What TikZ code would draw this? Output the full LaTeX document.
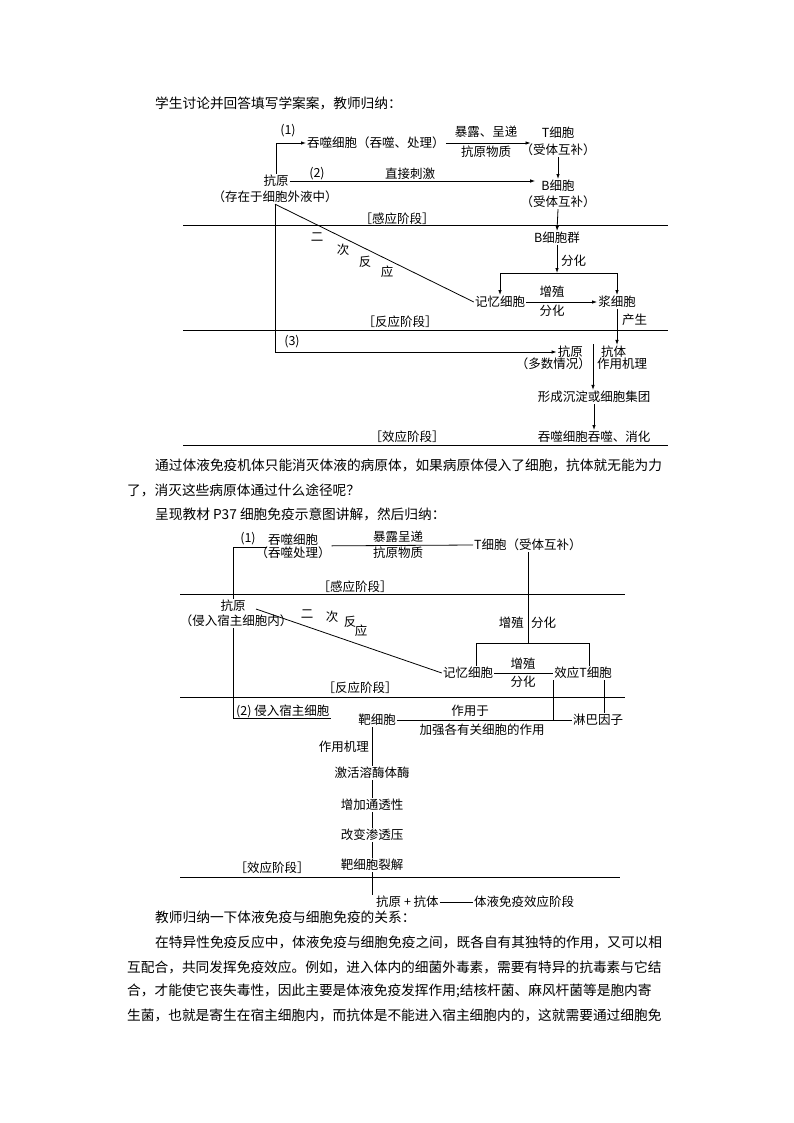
\documentclass[tikz,border=0pt]{standalone}
\usepackage{fontspec}
\newfontfamily\cjk{Noto Sans CJK SC}
\usetikzlibrary{arrows.meta}
\begin{document}
\begin{tikzpicture}[x=1pt,y=-1pt,
  t/.style={font=\cjk\fontsize{12.5}{14}\selectfont, inner sep=1pt},
  p/.style={font=\cjk\fontsize{13.7}{16}\selectfont, anchor=west, inner sep=0pt},
  ln/.style={line width=0.8pt},
  ar/.style={ln, -{Latex[length=5pt,width=3.5pt]}}]
\useasboundingbox[fill=white] (0,0) rectangle (794,1123);

% ---------- texts ----------
\node[p] (h1) at (155,103) {学生讨论并回答填写学案案，教师归纳：};
\node[p] (q1) at (155,465) {通过体液免疫机体只能消灭体液的病原体，如果病原体侵入了细胞，抗体就无能为力};
\node[p] (q2) at (127,490) {了，消灭这些病原体通过什么途径呢？};
\node[p] (q3) at (155,514) {呈现教材 P37 细胞免疫示意图讲解，然后归纳：};
\node[p] (r1) at (155,917) {教师归纳一下体液免疫与细胞免疫的关系：};
\node[p] (r2) at (155,942) {在特异性免疫反应中，体液免疫与细胞免疫之间，既各自有其独特的作用，又可以相};
\node[p] (r3) at (127,967) {互配合，共同发挥免疫效应。例如，进入体内的细菌外毒素，需要有特异的抗毒素与它结};
\node[p] (r4) at (127,991) {合，才能使它丧失毒性，因此主要是体液免疫发挥作用;结核杆菌、麻风杆菌等是胞内寄};
\node[p] (r5) at (127,1015) {生菌，也就是寄生在宿主细胞内，而抗体是不能进入宿主细胞内的，这就需要通过细胞免};

% ---------- diagram 1 ----------
\draw[ln] (183,225) -- (668,225);
\draw[ln] (183,330) -- (668,330);
\draw[ln] (183,445) -- (668,445);

\node[t] (a1) at (276,181) {抗原};
\node[t] (a1b) at (275,197) {（存在于细胞外液中）};
\node[t,anchor=west] (tun1) at (306,143) {吞噬细胞（吞噬、处理）};
\node[t] (T1) at (558,133) {T细胞};
\node[t] (T1b) at (558,150) {（受体互补）};
\node[t] (B1) at (558,186) {B细胞};
\node[t] (B1b) at (558,202) {（受体互补）};
\node[t] (Bq) at (557,238) {B细胞群};
\node[t] (mem1) at (500,302) {记忆细胞};
\node[t] (pl1) at (617,302) {浆细胞};
\node[t,anchor=east] (ag3) at (584,352) {抗原};
\node[t,anchor=west] (ab3) at (600,352) {抗体};
\node[t,anchor=east] (dq) at (592,364) {（多数情况）};
\node[t,anchor=west] (zj) at (596,364) {作用机理};
\node[t] (cd) at (594,397) {形成沉淀或细胞集团};
\node[t] (ts1) at (594,437) {吞噬细胞吞噬、消化};

\node[t] (l11) at (288,131) {(1)};
\node[t] (l12) at (486,132) {暴露、呈递};
\node[t] (l13) at (486,152) {抗原物质};
\node[t] (l21) at (317,174) {(2)};
\node[t] (l22) at (410,174) {直接刺激};
\node[t] (st11) at (397,219) {［感应阶段］};
\node[t,anchor=west] (l14) at (560,261) {分化};
\node[t] (l15) at (552,292) {增殖};
\node[t] (l16) at (552,311) {分化};
\node[t,anchor=west] (l17) at (621,320) {产生};
\node[t] (st12) at (400,322) {［反应阶段］};
\node[t] (l31) at (292,342) {(3)};
\node[t] (st13) at (407,437) {［效应阶段］};
\node[t] (e1) at (317,237) {二};
\node[t] (e2) at (343,250) {次};
\node[t] (e3) at (365,262) {反};
\node[t] (e4) at (387,272) {应};

\draw[ar] (a1.north) |- (tun1.west);
\draw[ar] (tun1.east) -- ([xshift=-10pt]T1.west |- tun1.east);
\draw[ar] (T1b.south) -- (B1.north);
\draw[ar] (a1.east) -- ([xshift=-5pt]B1.west |- a1.east);
\draw[ar] (B1b.south) -- (Bq.north);
\coordinate (s1) at (557,273);
\draw[ar] (Bq.south) -- (s1);
\draw[ar] (s1) -| (mem1.north);
\draw[ar] (s1) -| (pl1.north);
\draw[ar] (mem1.east) -- (pl1.west);
\draw[ar] (pl1.south) -- (pl1.south |- ab3.north);
\draw[ar] (a1b.south) |- (ag3.west);
\coordinate (m3) at (593,344);
\draw[ar] (m3) -- (m3 |- cd.north);
\draw[ar] (cd.south) -- (ts1.north);
\draw[ln] (a1b.south) -- (mem1.west);

% ---------- diagram 2 ----------
\draw[ln] (180,594) -- (625,594);
\draw[ln] (180,697) -- (625,697);
\draw[ln] (180,877) -- (620,877);

\node[t] (m11) at (248,539) {(1)};
\node[t] (ts2) at (293,540) {吞噬细胞};
\node[t] (ts2b) at (293,553) {（吞噬处理）};
\node[t] (m12) at (398,537) {暴露呈递};
\node[t] (m13) at (398,553) {抗原物质};
\node[t,anchor=west] (T2) at (473,545) {T细胞（受体互补）};
\node[t] (st21) at (355,587) {［感应阶段］};
\node[t] (ag2) at (233,606) {抗原};
\node[t] (ag2b) at (236,621) {（侵入宿主细胞内）};
\node[t] (f1) at (307,614) {二};
\node[t] (f2) at (332,617) {次};
\node[t] (f3) at (350,622) {反};
\node[t] (f4) at (361,631) {应};
\node[t,anchor=east] (m14) at (525,623) {增殖};
\node[t,anchor=west] (m15) at (530,623) {分化};
\node[t] (mem2) at (468,673) {记忆细胞};
\node[t] (eff) at (583,673) {效应T细胞};
\node[t] (m16) at (523,664) {增殖};
\node[t] (m17) at (523,682) {分化};
\node[t] (st22) at (360,688) {［反应阶段］};
\node[t,anchor=west] (inv) at (235,711) {(2) 侵入宿主细胞};
\node[t] (tc) at (377,720) {靶细胞};
\node[t] (lb) at (598,720) {淋巴因子};
\node[t] (m18) at (470,711) {作用于};
\node[t] (m19) at (482,730) {加强各有关细胞的作用};
\node[t,anchor=east] (m20) at (370,747) {作用机理};
\node[t] (j1) at (372,773) {激活溶酶体酶};
\node[t] (j2) at (372,805) {增加通透性};
\node[t] (j3) at (372,835) {改变渗透压};
\node[t] (j4) at (372,865) {靶细胞裂解};
\node[t] (st23) at (272,868) {［效应阶段］};
\node[t,anchor=west] (ab2) at (375,902) {抗原 + 抗体};
\node[t,anchor=west] (hu) at (473,902) {体液免疫效应阶段};

\draw[ln] (ag2.north) |- (ts2.south west);
\draw[ln] (ts2b.north east) -- (T2.west);
\coordinate (s2) at (528,643);
\draw[ln] (T2.south -| s2) -- (s2);
\coordinate (bl) at (476,643);
\coordinate (br) at (589,643);
\draw[ln] (bl |- mem2.north) -- (bl) -- (br) -- (br |- eff.north);
\draw[ln] (mem2.east) -- (eff.west);
\coordinate (d2) at (256,609);
\draw[ln] (d2) -- (mem2.west);
\draw[ln] (ag2b.south -| ag2.center) |- (inv.south east);
\draw[ln] (tc.east) -- (lb.west);
\draw[ln] (eff.south west) -- (eff.south west |- tc.east);
\draw[ln] ([xshift=21pt]eff.south) -- ([xshift=21pt]eff.south |- lb.north);
\draw[ln] (tc.south -| j1.north) -- (j1.north);
\draw[ln] (j1.south) -- (j2.north);
\draw[ln] (j2.south) -- (j3.north);
\draw[ln] (j3.south) -- (j4.north);
\draw[ln] (j4.south) -- (j4.south |- ab2.north);
\draw[line width=0.6pt] (ab2.east) -- (hu.west);
\end{tikzpicture}
\end{document}
